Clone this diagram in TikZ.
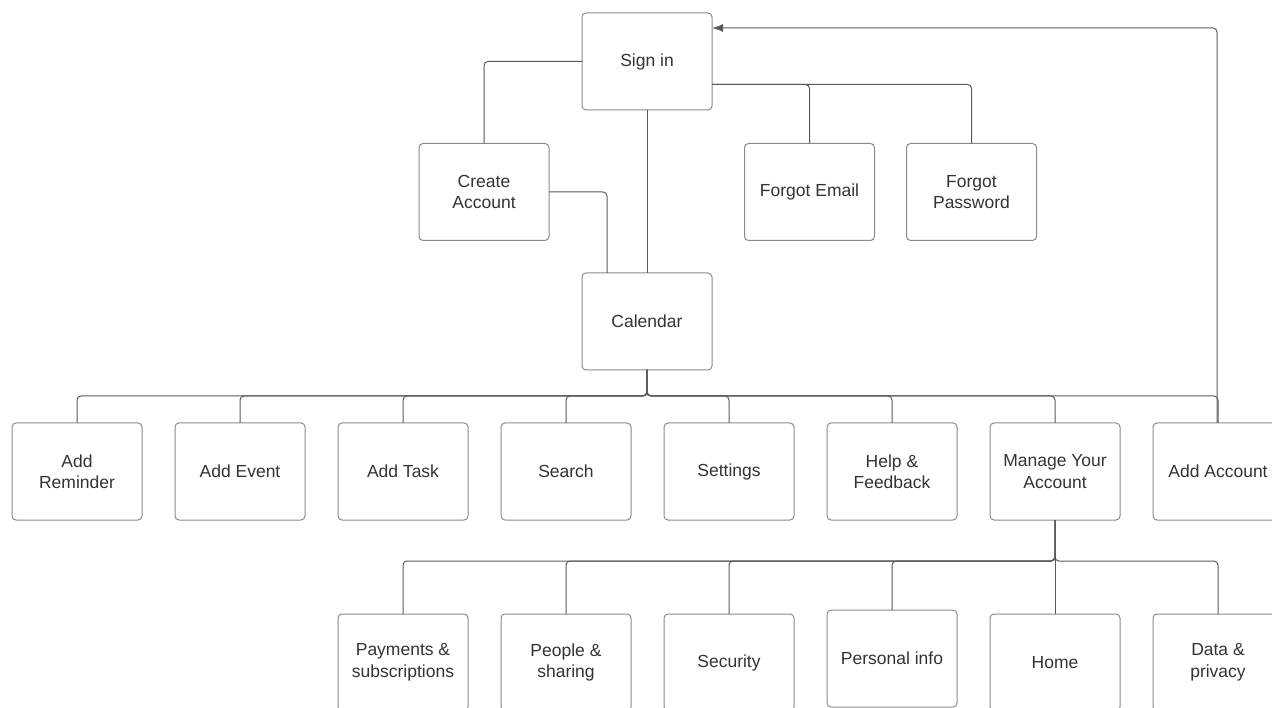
\documentclass[tikz,border=0pt]{standalone}
\usepackage{fontspec}
\setmainfont{Liberation Sans}
\usetikzlibrary{positioning,arrows.meta}

\definecolor{boxgray}{HTML}{8A8A8A}
\definecolor{linegray}{HTML}{5A5A5A}
\definecolor{txtgray}{HTML}{333333}

\tikzset{
  box/.style = {draw=boxgray, line width=1pt, rounded corners=4pt,
                minimum width=130pt, minimum height=97pt, inner sep=2pt,
                outer sep=0pt, align=center, text=txtgray,
                font=\fontsize{17.5}{21.5}\selectfont},
  link/.style = {draw=linegray, line width=1pt, rounded corners=4pt},
}

\begin{document}
\begin{tikzpicture}[x=1pt, y=-1pt]
  \useasboundingbox (0,0) rectangle (1272,708);
  \clip (0,0) rectangle (1272,708);

  % top part
  \node[box] (signin) at (647,61.5) {Sign in};
  \node[box] (create) at (484,192) {Create\\Account};
  \node[box] (femail) at (809.5,192) {Forgot Email};
  \node[box, right=32pt of femail] (fpass) {Forgot\\Password};
  \node[box, below=163pt of signin] (cal) {Calendar};

  % second row
  \node[box] (rem) at (77,471.5) {Add\\Reminder};
  \node[box, right=33pt of rem] (event) {Add Event};
  \node[box, right=33pt of event] (task) {Add Task};
  \node[box, right=33pt of task] (search) {Search};
  \node[box, right=33pt of search] (settings) {Settings};
  \node[box, right=33pt of settings] (help) {Help \&\\Feedback};
  \node[box, right=33pt of help] (manage) {Manage Your\\Account};
  \node[box, right=33pt of manage] (addacc) {Add Account};

  % third row
  \node[box, below=94pt of task] (pay) {Payments \&\\subscriptions};
  \node[box, right=33pt of pay] (people) {People \&\\sharing};
  \node[box, right=33pt of people] (security) {Security};
  \node[box, right=33pt of security, yshift=4pt] (personal) {Personal info};
  \node[box, below=94pt of manage] (home) {Home};
  \node[box, right=33pt of home] (privacy) {Data \&\\privacy};

  \draw[link] (signin.west) -| (create.north);
  \draw[link] (signin.south) -- (cal.north);
  \draw[link] (create.east) -| ([xshift=-40pt]cal.north);
  \draw[link] ([yshift=-23pt]signin.east) -| (femail.north);
  \draw[link] ([yshift=-23pt]signin.east) -| (fpass.north);

  \foreach \n in {rem,event,task,search,settings,help,manage,addacc}
    \draw[link] (cal.south) -- ++(0,26) -| (\n.north);

  \foreach \n in {pay,people,security,personal,home,privacy}
    \draw[link] (manage.south) -- ++(0,41) -| (\n.north);

  \draw[link, -{Latex[length=11pt,width=8pt]}]
    ([xshift=-1pt]addacc.north) |- ([yshift=33.5pt]signin.east);
\end{tikzpicture}
\end{document}
